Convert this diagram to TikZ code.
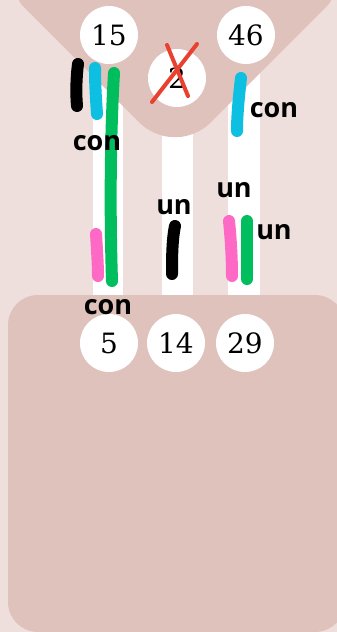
\documentclass[tikz,border=0pt]{standalone}
\usepackage{fontspec}
\newfontfamily\numfont{DejaVu Serif}
\newfontfamily\labfont{Open Sans}
\definecolor{bglight}{HTML}{EEDFDC}
\definecolor{bgdark}{HTML}{DFC2BC}
\definecolor{mkblack}{HTML}{000000}
\definecolor{mkcyan}{HTML}{0DBFE0}
\definecolor{mkgreen}{HTML}{00BE5E}
\definecolor{mkpink}{HTML}{FF69C6}
\definecolor{mkred}{HTML}{E8412F}
\tikzset{
  numcircle/.style={circle, fill=white, minimum size=58pt, inner sep=0pt, font=\numfont\fontsize{28}{28}\selectfont},
  lab/.style={inner sep=0pt, font=\labfont\bfseries\fontsize{27}{27}\selectfont},
  marker/.style={line width=12pt, line cap=round},
  strip/.style={fill=white, draw=none}
}
\begin{document}
\begin{tikzpicture}[x=1pt,y=-1pt]
\useasboundingbox (0,0) rectangle (337,632);
\fill[bglight] (0,0) rectangle (337,632);
% white strips
\fill[white] (93,0) rectangle (123,300);
\fill[white] (162,0) rectangle (193,300);
\fill[white] (228,0) rectangle (260,300);
% funnel
\fill[bgdark, rounded corners=18pt] (10,-7) -- (154,137) -- (196,137) -- (340,-7) -- cycle;
% bottom box
\fill[bgdark, rounded corners=30pt] (8,295) rectangle (345,632);
% circles
\node[numcircle] (n15) at (109,35) {15};
\node[numcircle] (n46) at (246,35) {46};
\node[numcircle] (n2) at (177,78) {2};
\node[numcircle] (n5) at (109,343) {5};
\node[numcircle] (n14) at (176,343) {14};
\node[numcircle] (n29) at (245,343) {29};
% red cross
\draw[mkred, line width=4pt, line cap=round] (167,45) -- (188,96);
\draw[mkred, line width=4pt, line cap=round] (197,44) -- (152,102);
% marks
\draw[marker, mkblack] (78,64) .. controls (76,80) and (76,95) .. (77,106);
\draw[marker, mkcyan] (95,68) .. controls (95,85) and (96,100) .. (97,114);
\draw[marker, mkgreen] (114,73) .. controls (110,140) and (110,220) .. (112,281);
\draw[marker, mkcyan] (241,78) .. controls (239,95) and (237,115) .. (237,131);
\draw[marker, mkpink] (96,234) .. controls (97,250) and (98,265) .. (98,276);
\draw[marker, mkblack] (175,226) .. controls (172,240) and (172,260) .. (172,274);
\draw[marker, mkpink] (229,221) .. controls (231,240) and (232,260) .. (232,276);
\draw[marker, mkgreen] (247,221) .. controls (247,240) and (247,260) .. (247,279);
% labels
\node[lab] (l1) at (97,143) {con};
\node[lab] (l2) at (274,110) {con};
\node[lab] (l3) at (174,207) {un};
\node[lab] (l4) at (234,190) {un};
\node[lab] (l5) at (274,232) {un};
\node[lab] (l6) at (108,307) {con};
\end{tikzpicture}
\end{document}
